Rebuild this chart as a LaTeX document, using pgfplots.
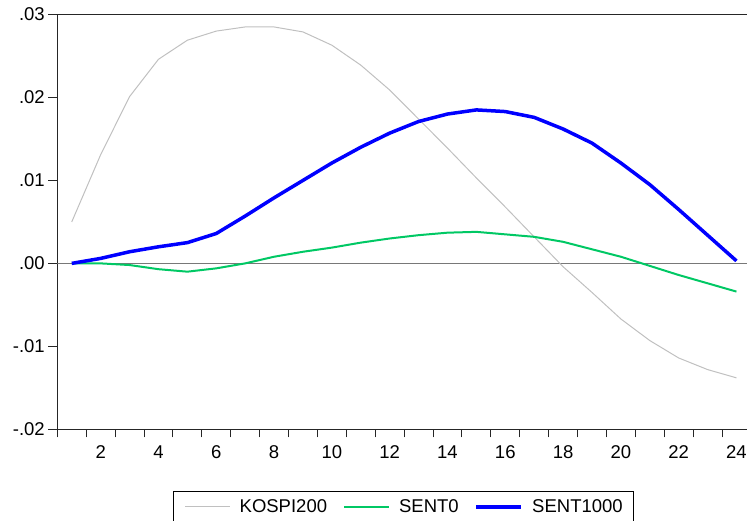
\documentclass[border=0pt]{standalone}
\usepackage{fontspec}
\setmainfont{Liberation Sans}
\usepackage{pgfplots}
\pgfplotsset{compat=1.18}
\definecolor{kospi}{RGB}{192,192,192}
\definecolor{sentzero}{RGB}{0,200,100}
\definecolor{sentk}{RGB}{0,0,255}
\definecolor{zeroline}{RGB}{120,120,120}
\newcommand{\chartfont}{\fontsize{18.5bp}{22bp}\selectfont}
\begin{document}
\begin{tikzpicture}
\useasboundingbox (0,0) rectangle (747bp,521bp);
\begin{axis}[
  at={(57.3bp,91.7bp)}, anchor=south west,
  scale only axis, width=693.6bp, height=414.8bp,
  xmin=0.5, xmax=24.5, ymin=-0.02, ymax=0.03,
  axis line style={line width=1.2bp, black!85},
  xtick={2,4,...,24},
  minor xtick={0.5,1.5,...,24.5},
  major x tick style={draw=none},
  ytick={-0.02,-0.01,0,0.01,0.02,0.03},
  yticklabels={-.02,-.01,.00,.01,.02,.03},
  scaled y ticks=false,
  tick align=outside, xtick pos=bottom, ytick pos=left,
  major tick length=9bp, minor tick length=8bp,
  tick style={line width=1bp, black!85},
  ticklabel style={font=\chartfont},
  xticklabel style={yshift=-4bp},
  /pgf/number format/assume math mode=true,
  legend columns=3,
  legend image code/.code={\draw[#1] (0bp,0bp) -- (45bp,0bp);},
  legend style={at={(0.1672,-0.148)}, anchor=north west,
    draw=black, line width=0.8bp, font=\chartfont,
    inner xsep=11bp, inner ysep=8.5bp,
    nodes={inner sep=0pt},
    /tikz/every odd column/.append style={column sep=9bp},
    /tikz/every even column/.append style={column sep=16bp}},
]
\addplot[zeroline, line width=1bp, forget plot] coordinates {(0.5,0) (24.5,0)};

\addplot[kospi, line width=1bp] coordinates {
(1,0.0050) (2,0.0131) (3,0.0201) (4,0.0246) (5,0.0269) (6,0.0280)
(7,0.0285) (8,0.0285) (9,0.0279) (10,0.0263) (11,0.0239) (12,0.0209)
(13,0.0174) (14,0.0139) (15,0.0103) (16,0.0068) (17,0.0032) (18,-0.0004)
(19,-0.0035) (20,-0.0067) (21,-0.0093) (22,-0.0114) (23,-0.0128) (24,-0.0138)};
\addlegendentry{KOSPI200}

\addplot[sentzero, line width=2bp] coordinates {
(1,0.0000) (2,0.0000) (3,-0.0002) (4,-0.0007) (5,-0.0010) (6,-0.0006)
(7,0.0000) (8,0.0008) (9,0.0014) (10,0.0019) (11,0.0025) (12,0.0030)
(13,0.0034) (14,0.0037) (15,0.0038) (16,0.0035) (17,0.0032) (18,0.0026)
(19,0.0017) (20,0.0008) (21,-0.0003) (22,-0.0014) (23,-0.0024) (24,-0.0034)};
\addlegendentry{SENT0}

\addplot[sentk, line width=3.5bp] coordinates {
(1,0.0000) (2,0.0006) (3,0.0014) (4,0.0020) (5,0.0025) (6,0.0036)
(7,0.0057) (8,0.0079) (9,0.0100) (10,0.0121) (11,0.0140) (12,0.0157)
(13,0.0171) (14,0.0180) (15,0.0185) (16,0.0183) (17,0.0176) (18,0.0162)
(19,0.0145) (20,0.0121) (21,0.0095) (22,0.0065) (23,0.0034) (24,0.0003)};
\addlegendentry{SENT1000}
\end{axis}
\end{tikzpicture}
\end{document}
